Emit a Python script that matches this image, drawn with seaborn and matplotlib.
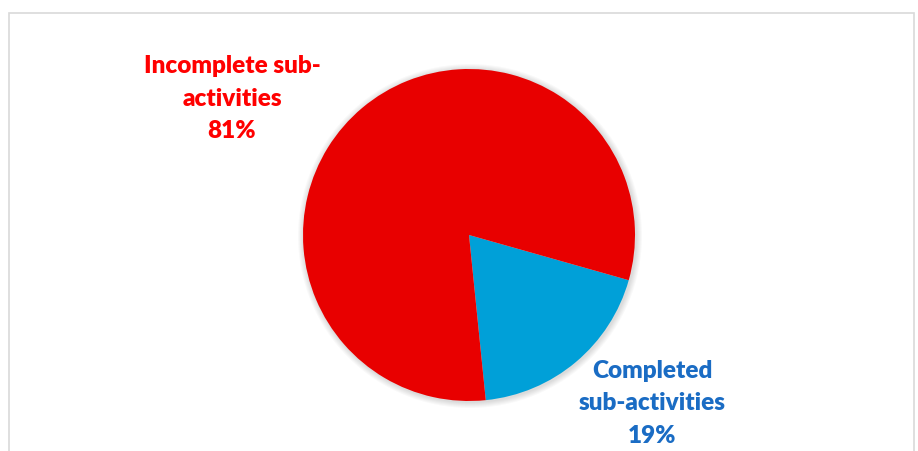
"""Pie chart: completed vs incomplete sub-activities."""

import matplotlib
matplotlib.use("Agg")
import matplotlib.pyplot as plt
import seaborn as sns
from matplotlib.patches import Circle, Rectangle

W, H = 918, 452

categories = ["Completed sub-activities", "Incomplete sub-activities"]
shares = [19, 81]
slice_colors = ["#00A0D8", "#E80000"]
label_colors = ["#1A6CC4", "#FF0000"]
label_lines = [["Completed", "sub-activities", "19%"],
               ["Incomplete sub-", "activities", "81%"]]

sns.set_theme(style="white")
plt.rcParams["font.family"] = ["Lato", "DejaVu Sans"]

fig = plt.figure(figsize=(W / 100, H / 100), dpi=100)
ax = fig.add_axes([0, 0, 1, 1])
ax.set_xlim(0, W)
ax.set_ylim(0, H)
ax.set_aspect("equal")
ax.axis("off")

# chart frame (runs off the bottom of the crop)
ax.add_patch(Rectangle((8.5, -20), 905, H - 13.5 + 20, fill=False,
                       edgecolor="#D9D9D9", linewidth=1.2))

cx, cy, r = 469, H - 236, 166

# soft shadow around the pie
for i in range(1, 7):
    ax.add_patch(Circle((cx + 1, cy - 1), r + i, color="black",
                        alpha=0.025, linewidth=0, zorder=1))

ax.pie(shares, colors=slice_colors, startangle=-84.2, center=(cx, cy),
       radius=r, wedgeprops={"linewidth": 0, "zorder": 2}, frame=True)
ax.set_xlim(0, W)
ax.set_ylim(0, H)
ax.axis("off")

# label blocks: (center x, first baseline y) in pixel coords
label_pos = [(652, 378), (232, 73)]
for lines, color, (tx, ty) in zip(label_lines, label_colors, label_pos):
    for k, line in enumerate(lines):
        ax.text(tx, H - (ty + k * 32.5), line, color=color, fontsize=17.5,
                fontweight="heavy", ha="center", va="baseline")

fig.savefig("out.png", dpi=100)
